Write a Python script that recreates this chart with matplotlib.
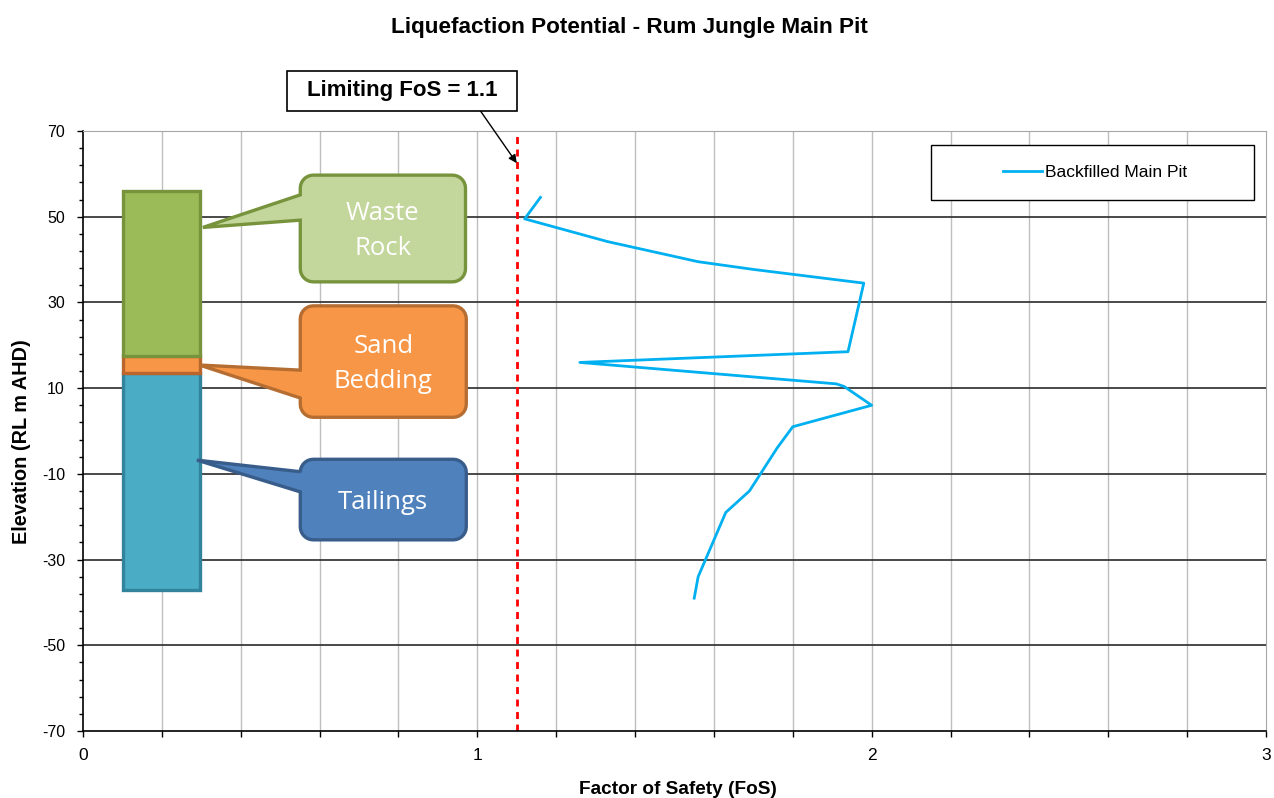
import numpy as np
import matplotlib
matplotlib.use("Agg")
import matplotlib.pyplot as plt
from matplotlib.patches import Polygon, Rectangle

plt.rcParams['font.family'] = ['Liberation Sans', 'DejaVu Sans']
plt.rcParams['axes.unicode_minus'] = False

# FoS profile of the backfilled main pit
fos = [1.16, 1.12, 1.33, 1.56, 1.70, 1.98, 1.94, 1.26, 1.91, 1.93, 2.00, 1.80, 1.76, 1.69, 1.63, 1.56, 1.55]
elev = [54.5, 49.5, 44.2, 39.5, 37.7, 34.5, 18.5, 16.0, 11.0, 10.4, 6.0, 1.0, -4.0, -14.0, -19.0, -34.0, -39.0]
series_name = 'Backfilled Main Pit'

limiting_fos = 1.1

# material column
layer_names = ['Tailings', 'Sand Bedding', 'Waste Rock']
layer_bottom = [-37.0, 13.5, 17.5]
layer_top = [13.5, 17.5, 56.0]
layer_face = ['#4BACC6', '#F79646', '#9BBB59']
layer_edge = ['#31849B', '#B9652B', '#77933C']

callout_text = ['Tailings', 'Sand\nBedding', 'Waste\nRock']
callout_face = ['#4F81BD', '#F79646', '#C3D69B']
callout_edge = ['#385D8A', '#B66D31', '#77933C']

fig = plt.figure(figsize=(12.74, 7.98), dpi=100)
ax = fig.add_axes([83/1274, 67/798, 1183/1274, 600/798])
ax.set_xlim(0, 3)
ax.set_ylim(-70, 70)

# grid
for x in np.arange(0.2, 3.0, 0.2):
    ax.axvline(x, color='#BFBFBF', lw=1.0, zorder=0)
for y in np.arange(-50, 70, 20):
    ax.axhline(y, color='#3A3A3A', lw=1.3, zorder=0)

ax.set_xticks([0, 1, 2, 3])
ax.set_xticks(np.arange(0, 3.01, 0.2), minor=True)
ax.set_yticks(np.arange(-70, 71, 20))
ax.set_yticks(np.arange(-70, 71, 4), minor=True)
ax.tick_params(axis='both', which='major', direction='out', length=4, width=1, colors='black')
ax.tick_params(axis='x', which='minor', direction='out', length=4, width=1)
ax.tick_params(axis='y', which='minor', direction='out', length=3, width=1)
ax.tick_params(axis='x', which='major', pad=8, labelsize=12.5)
ax.tick_params(axis='y', which='major', pad=9, labelsize=11.5)
for s in ['top', 'right']:
    ax.spines[s].set_color('#A6A6A6')
for s in ['left', 'bottom']:
    ax.spines[s].set_color('black')
    ax.spines[s].set_linewidth(1.2)

# material column
for b, t, fc, ec in zip(layer_bottom, layer_top, layer_face, layer_edge):
    ax.bar(0.2, t - b, bottom=b, width=0.195, color=fc, edgecolor=ec, linewidth=2.4, zorder=3)

# callouts (box in data coords, pointer tip, pointer base on left edge)
boxes = [(0.551, 0.972, -25.4, -6.6), (0.551, 0.972, 3.2, 29.2), (0.551, 0.970, 34.8, 59.7)]
tips = [(0.289, -6.8), (0.295, 15.4), (0.304, 47.5)]
bases = [(-14.2, -9.5), (7.7, 14.2), (49.2, 55.1)]


def callout(box, tip, base, fc, ec, txt):
    x0, x1, y0, y1 = box
    tr = ax.transData
    L, B = tr.transform((x0, y0))
    R, T = tr.transform((x1, y1))
    tx, ty = tr.transform(tip)
    _, bl = tr.transform((x0, base[0]))
    _, bh = tr.transform((x0, base[1]))
    r = 13
    pts = [(L + r, T), (R - r, T)]
    for a in np.linspace(90, 0, 8):
        pts.append((R - r + r*np.cos(np.radians(a)), T - r + r*np.sin(np.radians(a))))
    for a in np.linspace(0, -90, 8):
        pts.append((R - r + r*np.cos(np.radians(a)), B + r + r*np.sin(np.radians(a))))
    for a in np.linspace(-90, -180, 8):
        pts.append((L + r + r*np.cos(np.radians(a)), B + r + r*np.sin(np.radians(a))))
    pts += [(L, bl), (tx, ty), (L, bh)]
    for a in np.linspace(180, 90, 8):
        pts.append((L + r + r*np.cos(np.radians(a)), T - r + r*np.sin(np.radians(a))))
    pts = tr.inverted().transform(np.array(pts))
    ax.add_patch(Polygon(pts, closed=True, facecolor=fc, edgecolor=ec, lw=2.4, zorder=4))
    ax.text((x0 + x1)/2, (y0 + y1)/2 - 0.6, txt, ha='center', va='center', color='white',
            fontsize=18.5, family=['Open Sans', 'DejaVu Sans'], linespacing=1.55, zorder=5)


for bx, tp, bs, fc, ec, tx in zip(boxes, tips, bases, callout_face, callout_edge, callout_text):
    callout(bx, tp, bs, fc, ec, tx)

# limiting FoS
ax.axvline(limiting_fos, color='#FF0000', lw=2, linestyle=(0, (2.5, 2)), zorder=2)
ax.add_patch(Rectangle((0.518, 74.67), 0.5835, 9.33, facecolor='white', edgecolor='black',
                       lw=1.2, clip_on=False, zorder=7))
ax.text(0.81, 79.4, 'Limiting FoS = %.1f' % limiting_fos, ha='center', va='center',
        fontsize=16, fontweight='bold', zorder=8, clip_on=False)
ax.annotate('', xy=(limiting_fos, 62.5), xytext=(1.008, 74.67), annotation_clip=False,
            arrowprops=dict(arrowstyle='-|>', color='black', lw=1, mutation_scale=12,
                            shrinkA=0, shrinkB=0))

# data line
ax.plot(fos, elev, color='#00B0F0', lw=2, zorder=6, label=series_name)

# legend
ax.add_patch(Rectangle((0.717, 0.885), 0.273, 0.092, transform=ax.transAxes,
                       facecolor='white', edgecolor='black', lw=1, zorder=7))
leg = ax.legend(loc='center', bbox_to_anchor=(0.8555, 0.931), frameon=False, fontsize=12.5,
                handlelength=2.25, handletextpad=0.15)
leg.set_zorder(8)

fig.text(0.494, 0.966, 'Liquefaction Potential - Rum Jungle Main Pit', ha='center', va='center',
         fontsize=16.2, fontweight='bold')
fig.text(0.0165, 0.446, 'Elevation (RL m AHD)', rotation=90, ha='center', va='center',
         fontsize=14.3, fontweight='bold')
fig.text(0.532, 0.011, 'Factor of Safety (FoS)', ha='center', va='center',
         fontsize=13.7, fontweight='bold')

fig.savefig('out.png', dpi=100, facecolor='white')
